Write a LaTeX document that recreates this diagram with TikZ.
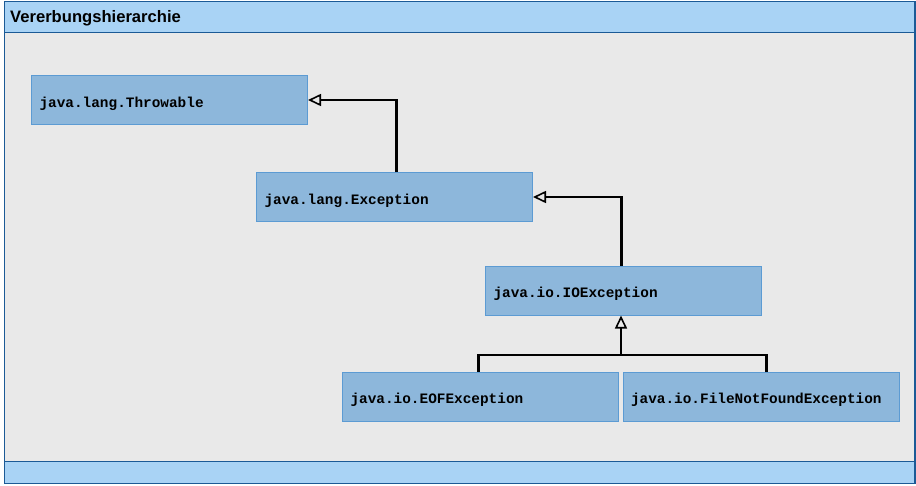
\documentclass[tikz,border=0pt]{standalone}
\usepackage{fontspec}
\setmainfont{Liberation Sans}
\newfontfamily\codefont{Liberation Mono}
\usetikzlibrary{arrows.meta}
\definecolor{hdr}{HTML}{A9D3F5}
\definecolor{frm}{HTML}{1B5A96}
\definecolor{bdy}{HTML}{E9E9E9}
\definecolor{boxf}{HTML}{8DB7DB}
\definecolor{boxd}{HTML}{5C9BD3}
\tikzset{
  cls/.style={draw=boxd, fill=boxf, line width=1pt, anchor=north west,
    minimum height=49pt, inner xsep=8pt, inner ysep=0pt,
    text width=260pt, align=left, text height=14pt, text depth=0pt,
    font=\codefont\bfseries\fontsize{14.4}{16}\selectfont},
  conn/.style={draw=black, line width=2.5pt},
  inh/.style={conn, -{Triangle[open, length=13pt, width=12pt, line width=1.6pt]}}
}
\begin{document}
\begin{tikzpicture}[x=1pt, y=-1pt]
\useasboundingbox (0,0) rectangle (916,485);
\fill[bdy] (4.5,1.5) rectangle (915,483.5);
\fill[hdr] (4.5,1.5) rectangle (915,32.5);
\fill[hdr] (4.5,461.5) rectangle (915,483.5);
\draw[frm, line width=1.3pt] (4.5,32.5) -- (915,32.5);
\draw[frm, line width=1.3pt] (4.5,461.5) -- (915,461.5);
\draw[frm, line width=1.5pt] (4.5,1.5) rectangle (915,483.5);
\node[anchor=base west, inner sep=0pt, font=\bfseries\fontsize{16.6}{18}\selectfont] (title) at (10,22.5) {Vererbungshierarchie};

\node[cls] (thr) at (31,75) {java.lang.Throwable};
\node[cls] (exc) at (256,172) {java.lang.Exception};
\node[cls] (io)  at (485,265.5) {java.io.IOException};
\node[cls] (eof) at (342,371.5) {java.io.EOFException};
\node[cls] (fnf) at (622.5,371.5) {java.io.FileNotFoundException};

\draw[inh] ([xshift=2pt]exc.north) |- (thr.east);
\draw[inh] ([xshift=-2pt]io.north) |- (exc.east);
\coordinate (j) at ([xshift=-2.5pt]io.south |- 0,355);
\draw[conn, line cap=butt] ([xshift=-2pt]eof.north) |- (j) -| ([xshift=5.5pt]fnf.north);
\draw[inh] (j) -- ([xshift=-2.5pt]io.south);
\end{tikzpicture}
\end{document}
